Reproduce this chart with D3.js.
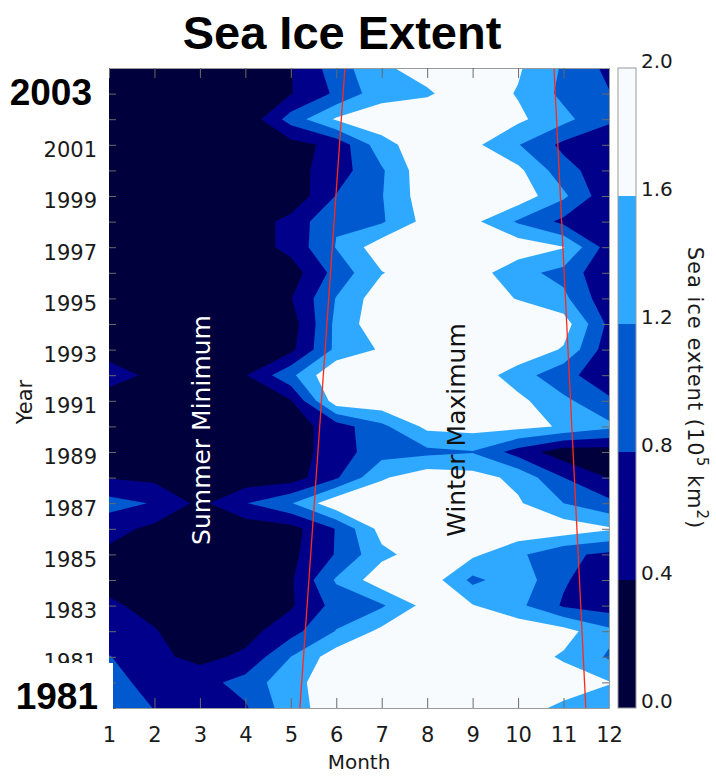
<!DOCTYPE html>
<html>
<head>
<meta charset="utf-8">
<script src="https://cdn.jsdelivr.net/npm/d3@7"></script>
<style>
  body { margin: 0; background: #fff; }
  svg { display: block; }
</style>
</head>
<body>
<svg id="chart" width="716" height="776"></svg>
<script>
// Monthly sea ice extent (10^5 km^2), one row per year, 1979 (first) to 2004 (last)
const months = [1, 2, 3, 4, 5, 6, 7, 8, 9, 10, 11, 12];
const years = d3.range(1979, 2005);
const extent = [
  [1.00, 0.79, 0.60, 0.75, 1.45, 1.80, 1.90, 1.90, 1.90, 1.75, 1.52, 1.40], // 1979
  [0.90, 0.70, 0.65, 0.95, 1.48, 1.82, 1.90, 1.95, 1.95, 1.90, 1.80, 1.62], // 1980
  [0.82, 0.50, 0.28, 0.48, 1.20, 1.82, 1.90, 1.95, 1.95, 1.80, 1.55, 1.15], // 1981
  [0.55, 0.42, 0.20, 0.25, 0.65, 1.22, 1.70, 1.90, 1.90, 1.90, 1.75, 1.30], // 1982
  [0.45, 0.30, 0.20, 0.20, 0.35, 0.95, 1.15, 1.75, 1.62, 1.30, 0.75, 0.60], // 1983
  [0.30, 0.25, 0.20, 0.20, 0.35, 1.25, 1.85, 1.85, 1.10, 1.45, 0.85, 0.50], // 1984
  [0.30, 0.20, 0.15, 0.15, 0.30, 0.83, 1.50, 1.80, 1.68, 1.28, 0.88, 0.72], // 1985
  [0.55, 0.30, 0.15, 0.15, 0.25, 0.82, 1.75, 1.90, 1.90, 1.90, 1.85, 1.65], // 1986
  [0.95, 0.77, 0.30, 0.78, 1.17, 1.90, 1.95, 1.95, 1.90, 1.65, 1.20, 0.90], // 1987
  [0.38, 0.30, 0.20, 0.15, 0.20, 0.75, 1.55, 1.85, 1.75, 1.50, 0.80, 0.38], // 1988
  [0.20, 0.15, 0.15, 0.15, 0.20, 0.60, 1.04, 1.10, 1.18, 0.63, 0.17, 0.20], // 1989
  [0.20, 0.15, 0.15, 0.15, 0.20, 0.60, 1.10, 1.70, 1.75, 1.72, 1.56, 1.30], // 1990
  [0.15, 0.15, 0.10, 0.10, 0.38, 1.85, 1.90, 1.95, 1.95, 1.70, 1.30, 0.85], // 1991
  [0.62, 0.28, 0.25, 0.38, 1.10, 2.00, 1.95, 1.95, 1.85, 1.40, 0.90, 0.60], // 1992
  [0.20, 0.15, 0.15, 0.20, 0.30, 1.30, 1.65, 1.90, 1.90, 1.90, 1.56, 0.56], // 1993
  [0.15, 0.15, 0.15, 0.15, 0.20, 1.30, 1.90, 1.90, 1.90, 1.90, 1.80, 0.70], // 1994
  [0.15, 0.15, 0.15, 0.20, 0.38, 1.22, 1.85, 1.90, 1.80, 1.58, 1.30, 0.50], // 1995
  [0.15, 0.15, 0.15, 0.15, 0.20, 0.95, 1.58, 1.85, 1.80, 1.33, 1.07, 0.45], // 1996
  [0.15, 0.15, 0.15, 0.15, 0.53, 1.22, 1.85, 1.90, 1.90, 1.85, 1.62, 0.60], // 1997
  [0.15, 0.15, 0.15, 0.15, 0.53, 1.17, 1.15, 1.75, 1.70, 1.15, 0.70, 0.55], // 1998
  [0.10, 0.10, 0.10, 0.10, 0.10, 0.82, 1.18, 1.85, 1.90, 1.85, 1.28, 0.50], // 1999
  [0.10, 0.10, 0.10, 0.10, 0.25, 0.60, 1.15, 1.90, 1.90, 1.70, 0.95, 0.55], // 2000
  [0.10, 0.10, 0.10, 0.10, 0.25, 0.52, 1.45, 1.87, 1.70, 1.22, 0.70, 0.60], // 2001
  [0.10, 0.10, 0.10, 0.10, 0.97, 1.65, 1.85, 1.90, 1.90, 1.68, 1.32, 0.85], // 2002
  [0.10, 0.10, 0.10, 0.15, 0.38, 0.87, 1.45, 1.55, 1.85, 1.57, 1.10, 0.82], // 2003
  [0.10, 0.10, 0.10, 0.15, 0.38, 1.00, 1.54, 1.75, 1.85, 1.65, 1.15, 0.70]  // 2004
];
const levels = [0.0, 0.4, 0.8, 1.2, 1.6, 2.0];
const levelColors = ["#00003c", "#00008a", "#0059cf", "#2ea9ff", "#f7fbfe"];
const yearLabels = [1981, 1983, 1985, 1987, 1989, 1991, 1993, 1995, 1997, 1999, 2001];
const colorbarLabels = ["0.0", "0.4", "0.8", "1.2", "1.6", "2.0"];
// Onset of freeze-up and of melt, as [month, year] end points
const trendLines = [
  [[5.20, 1979], [6.19, 2004]],
  [[11.49, 1979], [10.79, 2004]]
];

const svg = d3.select("#chart");
const font = "'DejaVu Sans', sans-serif";
const plot = { left: 109, right: 609, top: 68, bottom: 708 };

const x = d3.scaleLinear().domain([1, 12]).range([plot.left, plot.right]);
const y = d3.scaleLinear().domain([1979, 2004]).range([plot.bottom, plot.top]);

svg.append("defs").append("clipPath").attr("id", "plot-clip")
  .append("rect")
  .attr("x", plot.left).attr("y", plot.top)
  .attr("width", plot.right - plot.left).attr("height", plot.bottom - plot.top);

// Filled contours: grid sample i sits at grid coordinate i + 0.5
const contours = d3.contours()
  .size([months.length, years.length])
  .thresholds(levels.slice(0, 5))(extent.flat());

const gridToChart = d3.geoTransform({
  point(gx, gy) {
    this.stream.point(x(months[0] + gx - 0.5), y(years[0] + gy - 0.5));
  }
});
const contourPath = d3.geoPath(gridToChart);

const field = svg.append("g").attr("clip-path", "url(#plot-clip)");
field.selectAll("path.band")
  .data(contours)
  .join("path")
  .attr("class", "band")
  .attr("d", contourPath)
  .attr("fill", (d, i) => levelColors[i]);

// Trend lines
const line = d3.line().x(d => x(d[0])).y(d => y(d[1]));
field.selectAll("path.trend")
  .data(trendLines)
  .join("path")
  .attr("class", "trend")
  .attr("d", line)
  .attr("fill", "none")
  .attr("stroke", "#ff2a1a")
  .attr("stroke-width", 1.3);

// Annotations
svg.append("text")
  .attr("transform", "translate(210,430) rotate(-90)")
  .attr("text-anchor", "middle")
  .attr("font-family", font).attr("font-size", 25)
  .attr("fill", "#ffffff")
  .text("Summer Minimum");
svg.append("text")
  .attr("transform", "translate(465,430) rotate(-90)")
  .attr("text-anchor", "middle")
  .attr("font-family", font).attr("font-size", 25)
  .attr("fill", "#111")
  .text("Winter Maximum");

// Axes
const tickColor = "#6a6a6a";
function styleAxis(g) {
  g.selectAll(".tick line").attr("stroke", tickColor);
  g.select(".domain").attr("stroke", "#9a9a9a");
  g.selectAll("text").attr("font-family", font).attr("font-size", 21).attr("fill", "#1a1a1a");
}

svg.append("g")
  .attr("transform", `translate(0,${plot.bottom})`)
  .call(d3.axisBottom(x).tickValues(months).tickFormat(d3.format("d"))
    .tickSizeInner(-10).tickSizeOuter(0).tickPadding(19))
  .call(styleAxis);

svg.append("g")
  .attr("transform", `translate(0,${plot.top})`)
  .call(d3.axisTop(x).tickValues(months).tickFormat("")
    .tickSizeInner(-10).tickSizeOuter(0))
  .call(styleAxis);

svg.append("g")
  .attr("transform", `translate(${plot.left},0)`)
  .call(d3.axisLeft(y).tickValues(years.slice(0, -1))
    .tickFormat(d => yearLabels.includes(d) ? String(d) : "")
    .tickSizeInner(-7).tickSizeOuter(0).tickPadding(12))
  .call(styleAxis)
  .call(g => g.select(".domain").remove())
  .call(g => g.selectAll("text").attr("dy", "0.57em"));

svg.append("g")
  .attr("transform", `translate(${plot.right},0)`)
  .call(d3.axisRight(y).tickValues(years.slice(1, -1)).tickFormat("")
    .tickSizeInner(-7).tickSizeOuter(0))
  .call(styleAxis);

// Axis titles
svg.append("text")
  .attr("x", (plot.left + plot.right) / 2).attr("y", 769)
  .attr("text-anchor", "middle")
  .attr("font-family", font).attr("font-size", 20).attr("fill", "#1a1a1a")
  .text("Month");
svg.append("text")
  .attr("transform", "translate(32,402) rotate(-90)")
  .attr("text-anchor", "middle")
  .attr("font-family", font).attr("font-size", 21).attr("fill", "#1a1a1a")
  .text("Year");

// Colour bar
const cb = { left: 618, width: 18 };
const cbScale = d3.scaleLinear().domain([0, 2]).range([plot.bottom, plot.top]);
const bar = svg.append("g");
bar.selectAll("rect")
  .data(d3.pairs(levels))
  .join("rect")
  .attr("x", cb.left)
  .attr("y", d => cbScale(d[1]))
  .attr("width", cb.width)
  .attr("height", d => cbScale(d[0]) - cbScale(d[1]))
  .attr("fill", (d, i) => levelColors[i]);
bar.append("rect")
  .attr("x", cb.left).attr("y", plot.top)
  .attr("width", cb.width).attr("height", plot.bottom - plot.top)
  .attr("fill", "none").attr("stroke", "#9a9a9a");
bar.selectAll("text")
  .data(colorbarLabels)
  .join("text")
  .attr("x", cb.left + cb.width + 5)
  .attr("y", d => cbScale(+d))
  .attr("font-family", font).attr("font-size", 20).attr("fill", "#1a1a1a")
  .text(d => d);

const cbTitle = svg.append("text")
  .attr("transform", "translate(688,388) rotate(90)")
  .attr("text-anchor", "middle")
  .attr("font-family", font).attr("font-size", 21).attr("fill", "#1a1a1a")
  .attr("letter-spacing", 1);
cbTitle.append("tspan").text("Sea ice extent (10");
cbTitle.append("tspan").attr("dy", -9).attr("font-size", 15).text("5");
cbTitle.append("tspan").attr("dy", 9).text(" km");
cbTitle.append("tspan").attr("dy", -9).attr("font-size", 15).text("2");
cbTitle.append("tspan").attr("dy", 9).text(")");

// Title
svg.append("text")
  .attr("x", 342).attr("y", 49)
  .attr("text-anchor", "middle")
  .attr("font-family", "'Liberation Sans', Arial, sans-serif")
  .attr("font-weight", "bold").attr("font-size", 47).attr("fill", "#000")
  .text("Sea Ice Extent");

// Bold period labels
svg.append("rect")
  .attr("x", 0).attr("y", 663).attr("width", 113).attr("height", 46)
  .attr("fill", "#fff");
svg.append("text")
  .attr("x", 92).attr("y", 105).attr("text-anchor", "end")
  .attr("font-family", "'Liberation Sans', Arial, sans-serif")
  .attr("font-weight", "bold").attr("font-size", 37).attr("fill", "#000")
  .text("2003");
svg.append("text")
  .attr("x", 98).attr("y", 709).attr("text-anchor", "end")
  .attr("font-family", "'Liberation Sans', Arial, sans-serif")
  .attr("font-weight", "bold").attr("font-size", 37).attr("fill", "#000")
  .text("1981");
</script>
</body>
</html>
